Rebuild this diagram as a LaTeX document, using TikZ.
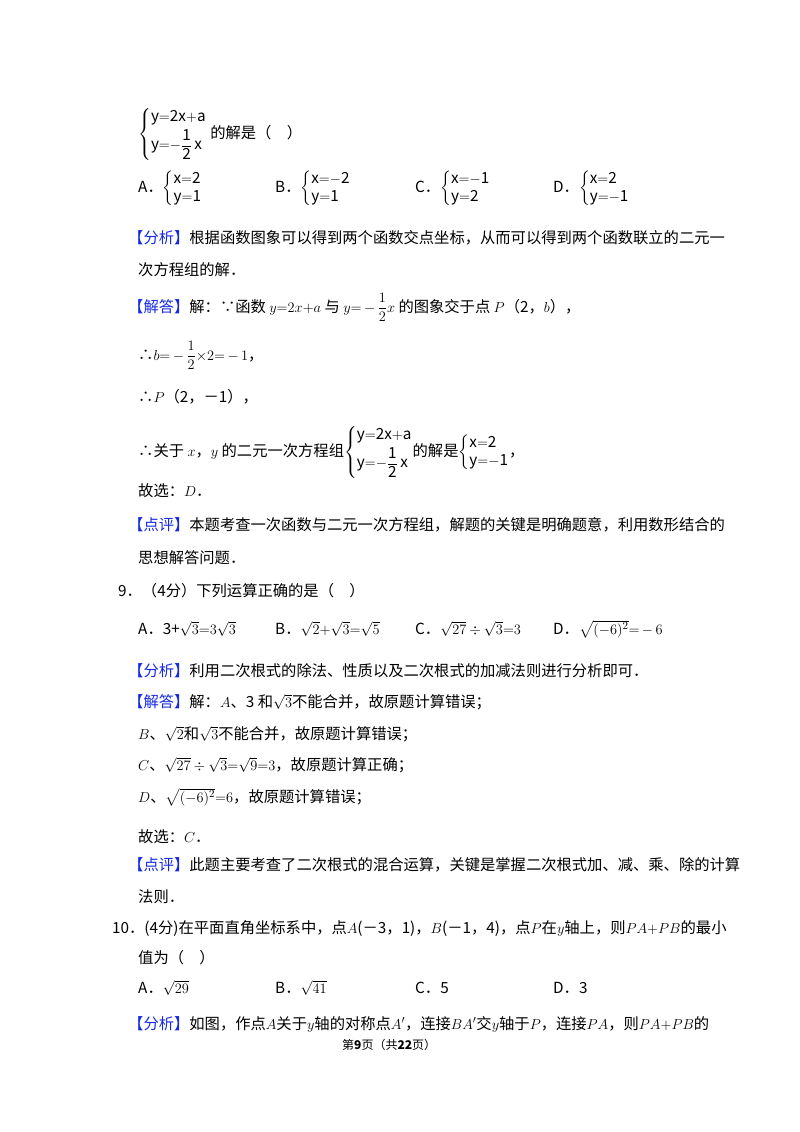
\documentclass[tikz,border=0pt]{standalone}
\usepackage{amsmath}
\usepackage{fontspec}
\setmainfont{Noto Sans CJK SC}
\definecolor{lbl}{RGB}{20,40,230}
\newcommand{\lb}[1]{\textcolor{lbl}{【#1】}}
\newcommand{\sysa}{\left\{\begin{array}{@{}l@{}}\mathrm{y{=}2x{+}a}\\[2pt] \mathrm{y{=}{-}\dfrac{1}{2}\,x}\end{array}\right.}
\begin{document}
\begin{tikzpicture}[x=1pt,y=1pt,
  t/.style={anchor=base west,inner sep=0pt,font=\fontsize{15.3}{18}\selectfont}]
\useasboundingbox (0,0) rectangle (800,-1132);
\node[t] (l1) at (138,-138) {$\sysa$ 的解是（\quad ）};
\node[t] (o1) at (138,-192) {A．$\left\{\begin{array}{@{}l@{}}\mathrm{x{=}2}\\ \mathrm{y{=}1}\end{array}\right.$};
\node[t] (o2) at (275,-192) {B．$\left\{\begin{array}{@{}l@{}}\mathrm{x{=}{-}2}\\ \mathrm{y{=}1}\end{array}\right.$};
\node[t] (o3) at (415,-192) {C．$\left\{\begin{array}{@{}l@{}}\mathrm{x{=}{-}1}\\ \mathrm{y{=}2}\end{array}\right.$};
\node[t] (o4) at (553,-192) {D．$\left\{\begin{array}{@{}l@{}}\mathrm{x{=}2}\\ \mathrm{y{=}{-}1}\end{array}\right.$};
\node[t] (a1) at (128,-243) {\lb{分析}根据函数图象可以得到两个函数交点坐标，从而可以得到两个函数联立的二元一};
\node[t] (a2) at (138,-275) {次方程组的解．};
\node[t] (s1) at (128,-312) {\lb{解答}解：∵函数 $y{=}2x{+}a$ 与 $y{=}\,{-}\,\dfrac{1}{2}x$ 的图象交于点 $P$（2，$b$），};
\node[t] (s2) at (138,-360) {∴$b{=}\,{-}\,\dfrac{1}{2}{\times}2{=}\,{-}\,1$，};
\node[t] (s3) at (138,-402) {∴$P$（2，－1），};
\node[t] (s4) at (138,-456) {∴关于 $x$，$y$ 的二元一次方程组$\sysa$的解是$\left\{\begin{array}{@{}l@{}}\mathrm{x{=}2}\\ \mathrm{y{=}{-}1}\end{array}\right.$，};
\node[t] (s5) at (138,-496) {故选：$D$．};
\node[t] (p1) at (128,-530) {\lb{点评}本题考查一次函数与二元一次方程组，解题的关键是明确题意，利用数形结合的};
\node[t] (p2) at (138,-563) {思想解答问题．};
\node[t] (q9) at (118,-596) {9．（4分）下列运算正确的是（\quad ）};
\node[t] (b1) at (138,-634) {A．3+$\sqrt{3}{=}3\sqrt{3}$};
\node[t] (b2) at (275,-634) {B．$\sqrt{2}{+}\sqrt{3}{=}\sqrt{5}$};
\node[t] (b3) at (415,-634) {C．$\sqrt{27}\div\sqrt{3}{=}3$};
\node[t] (b4) at (553,-634) {D．$\sqrt{(-6)^{2}}{=}\,{-}\,6$};
\node[t] (c1) at (128,-676) {\lb{分析}利用二次根式的除法、性质以及二次根式的加减法则进行分析即可．};
\node[t] (c2) at (128,-707) {\lb{解答}解：$A$、3 和$\sqrt{3}$不能合并，故原题计算错误；};
\node[t] (c3) at (138,-739) {$B$、$\sqrt{2}$和$\sqrt{3}$不能合并，故原题计算错误；};
\node[t] (c4) at (138,-770) {$C$、$\sqrt{27}\div\sqrt{3}{=}\sqrt{9}{=}3$，故原题计算正确；};
\node[t] (c5) at (138,-802) {$D$、$\sqrt{(-6)^{2}}{=}6$，故原题计算错误；};
\node[t] (c6) at (138,-842) {故选：$C$．};
\node[t] (d1) at (128,-870) {\lb{点评}此题主要考查了二次根式的混合运算，关键是掌握二次根式加、减、乘、除的计算};
\node[t] (d2) at (138,-902) {法则．};
\node[t] (q10) at (112,-933) {10．(4分)在平面直角坐标系中，点$A$(－3，1)，$B$(－1，4)，点$P$在$y$轴上，则$PA{+}PB$的最小};
\node[t] (e0) at (138,-963) {值为（\quad ）};
\node[t] (e1) at (138,-993) {A．$\sqrt{29}$};
\node[t] (e2) at (275,-993) {B．$\sqrt{41}$};
\node[t] (e3) at (415,-993) {C．5};
\node[t] (e4) at (553,-993) {D．3};
\node[t] (f1) at (128,-1029) {\lb{分析}如图，作点$A$关于$y$轴的对称点$A'$，连接$BA'$交$y$轴于$P$，连接$PA$，则$PA{+}PB$的};
\node[t,font=\fontsize{12}{14}\selectfont] (ft) at (342,-1049) {第\textbf{9}页（共\textbf{22}页）};
\end{tikzpicture}
\end{document}
